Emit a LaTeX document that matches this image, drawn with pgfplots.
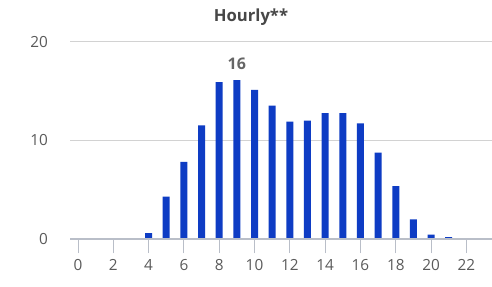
\documentclass[border=0pt]{standalone}
\usepackage{pgfplots}
\pgfplotsset{compat=1.18}
\usepackage{fontspec}
\setmainfont{Open Sans}
\definecolor{barblue}{RGB}{14,60,196}
\definecolor{ticktext}{RGB}{90,90,90}
\definecolor{gridc}{RGB}{210,210,210}
\definecolor{axisc}{RGB}{185,190,200}
\pgfplotstableread{
h v
0 0
1 0
2 0
3 0
4 0.6
5 4.3
6 7.8
7 11.5
8 15.9
9 16.1
10 15.1
11 13.5
12 11.9
13 12.0
14 12.75
15 12.75
16 11.7
17 8.75
18 5.35
19 2.0
20 0.45
21 0.2
22 0
23 0
}\hourly
\begin{document}
\begin{tikzpicture}
\useasboundingbox[fill=white] (0,0) rectangle (369pt,214.5pt);
\begin{axis}[
  at={(52.5pt,35.25pt)}, anchor=south west,
  scale only axis, width=316.5pt, height=148.1pt,
  xmin=-0.45, xmax=23.45, ymin=0, ymax=20,
  xtick={0,2,...,22}, ytick={0,10,20},
  xtick pos=bottom,
  axis line style={draw=none},
  ymajorgrids, grid style={gridc, line width=0.8pt},
  tick align=outside,
  major tick length=10.5pt,
  xtick style={axisc, line width=0.6pt},
  ytick style={draw=none},
  tick label style={font=\fontsize{11.5}{13}\selectfont, text=ticktext},
  /pgf/number format/assume math mode=true,
  yticklabel style={xshift=-2.5pt},
  xticklabel style={yshift=-1pt},
  clip=false,
]
\addplot[ybar, bar width=5.25pt, fill=barblue, draw=none] table[x=h,y=v] {\hourly};
\draw[axisc, line width=0.8pt] (axis cs:-0.45,0) -- (axis cs:23.45,0);
\node[font=\bfseries\fontsize{12}{14}\selectfont, text=black!60, above] at (axis cs:9,16.7) {16};
\end{axis}
\node[font=\bfseries\fontsize{12.5}{14}\selectfont, text=black!72] at (188.25pt,201.5pt) {Hourly**};
\end{tikzpicture}
\end{document}
